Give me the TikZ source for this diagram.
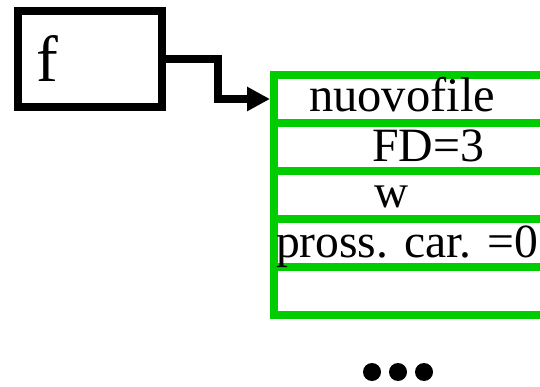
\documentclass[tikz,border=0pt]{standalone}
\usepackage{fontspec}
\usepackage{graphicx}
\setmainfont{Liberation Serif}
\usetikzlibrary{arrows.meta}
\definecolor{recgreen}{RGB}{0,204,0}
\tikzset{
  ptrbox/.style={draw=black, line width=8pt, rectangle, inner sep=0pt, outer sep=0pt,
                 minimum width=144pt, minimum height=96pt},
  recrow/.style={draw=recgreen, line width=8pt, rectangle, inner sep=0pt, outer sep=0pt,
                 minimum width=290pt, minimum height=48pt},
  lbl/.style={anchor=base west, inner sep=0pt, outer sep=0pt},
  conn/.style={draw=black, line width=8pt, line join=miter,
               -{Triangle[length=23pt,width=23pt]}, shorten >=4pt},
  bigdot/.style={circle, fill=black, inner sep=0pt, minimum size=18pt}
}
\begin{document}
\begin{tikzpicture}[x=1pt, y=-1pt]
  \useasboundingbox (0,0) rectangle (540,387);
  \clip (0,0) rectangle (540,387);

  % file pointer box
  \node[ptrbox] (fbox) at (90,59) {};
  \node[lbl] (flbl) at (36,82) {\resizebox{!}{46pt}{f}};

  % record of the open file, one row per field
  \node[recrow] (row1) at (419,99)  {};
  \node[recrow] (row2) at (419,147) {};
  \node[recrow] (row3) at (419,195) {};
  \node[recrow] (row4) at (419,243) {};
  \node[recrow] (row5) at (419,291) {};

  \node[lbl] (t1) at (309,112) {\resizebox{186pt}{!}{nuovofile}};
  \node[lbl] (t2) at (372,162) {\resizebox{112pt}{!}{FD=3}};
  \node[lbl] (t3) at (374,208) {\resizebox{34pt}{!}{w}};
  \node[lbl] (t4) at (276,257) {\resizebox{262pt}{!}{pross. car. =0}};

  % pointer from f to the record
  \coordinate (bend) at (217.5,59);
  \draw[conn] (fbox.east) -- (bend) |- (row1.west);

  % ellipsis below
  \node[bigdot] (d1) at (372,372) {};
  \node[bigdot] (d2) at (398,372) {};
  \node[bigdot] (d3) at (424,372) {};
\end{tikzpicture}
\end{document}
